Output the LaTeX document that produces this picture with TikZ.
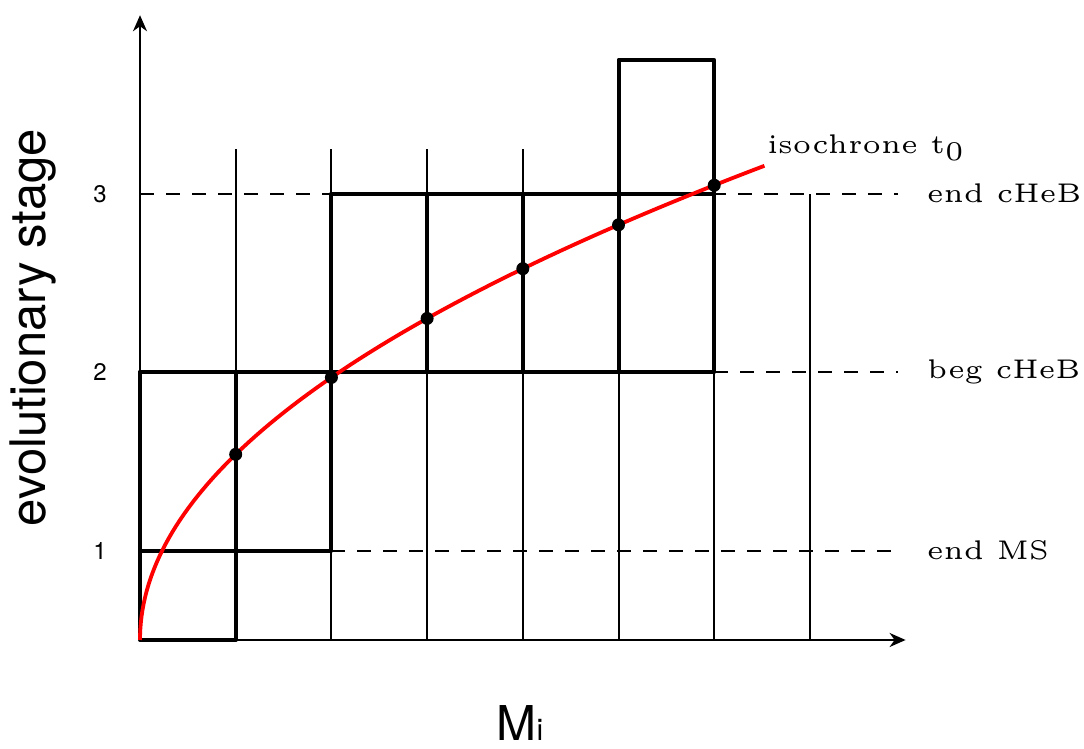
\documentclass[tikz,border=0pt]{standalone}
\usepackage{fontspec}
\setsansfont{TeX Gyre Heros}
\newfontfamily\tinyrm{lmroman5-regular.otf}
\usetikzlibrary{positioning,arrows.meta}
\definecolor{IsoRed}{RGB}{255,0,0}

\begin{document}
\begin{tikzpicture}[
    x=47.85pt, y=89.25pt,
    axisline/.style={line width=1pt, -{Stealth[length=8pt,width=7pt,inset=2.5pt]}},
    gridline/.style={line width=1pt},
    boxline/.style={line width=2pt, line join=round},
    levelline/.style={line width=1pt, dash pattern=on 7pt off 6pt},
    stagelabel/.style={anchor=west, inner sep=0pt, font=\tinyrm\fontsize{13.5}{15}\selectfont},
    ticklabel/.style={inner sep=0pt, font=\sffamily\fontsize{12}{14}\selectfont},
    axistitle/.style={inner sep=0pt, font=\sffamily\fontsize{24.5}{28}\selectfont},
    isoline/.style={line width=1.9pt, color=IsoRed},
    massdot/.style={circle, fill=black, inner sep=0pt, minimum size=6.5pt}
]
\useasboundingbox (-1.463,-0.1106) rectangle (9.864,4.0854);

% axes
\coordinate (O) at (0,0.5);
\coordinate (xend) at (8,0.5);
\coordinate (yend) at (0,4);
\draw[axisline] (O) -- (xend);
\draw[axisline] (O) -- (yend);

% mass grid
\foreach \i in {1,...,6}
    \draw[gridline] (\i,0.5) -- (\i,3.25);
\draw[gridline] (7,0.5) -- (7,3);

% stage levels
\draw[levelline] (0,3) -- (7.92,3);
\draw[levelline] (6,2) -- (7.92,2);
\draw[levelline] (2,1) -- (7.92,1);

% boxes
\draw[boxline] (0,0.5) rectangle (1,2);
\draw[boxline] (0,1) rectangle (2,2);
\foreach \i in {2,3,4}
    \draw[boxline] (\i,2) rectangle (\i+1,3);
\draw[boxline] (5,2) rectangle (6,3.75);
\draw[boxline] (5,3) -- (6,3);

% isochrone
\draw[isoline] plot[domain=0:2.555, samples=80, variable=\t] ({\t*\t},{0.5+1.04*\t});
\foreach \i in {1,...,6}
    \node[massdot] (d\i) at (\i,{0.5+1.04*sqrt(\i)}) {};

% labels
\node[stagelabel, anchor=base west] (isolab) at (6.55,3.228) {isochrone t\raisebox{-3.8pt}{0}};
\node[stagelabel] (endcheb) at (8.22,3) {end cHeB};
\node[stagelabel] (begcheb) at (8.22,2) {beg cHeB};
\node[stagelabel] (endms) at (8.22,1) {end MS};
\foreach \s in {1,2,3}
    \node[ticklabel] (tick\s) at (-0.418,\s) {\s};
\node[axistitle, rotate=90] (ylab) at (-1.12,2.25) {evolutionary stage};
\node[axistitle, font=\sffamily\fontsize{24}{28}\selectfont] (xlab) at (3.97,0.035) {M{\fontsize{15}{17}\selectfont i}};
\end{tikzpicture}
\end{document}
